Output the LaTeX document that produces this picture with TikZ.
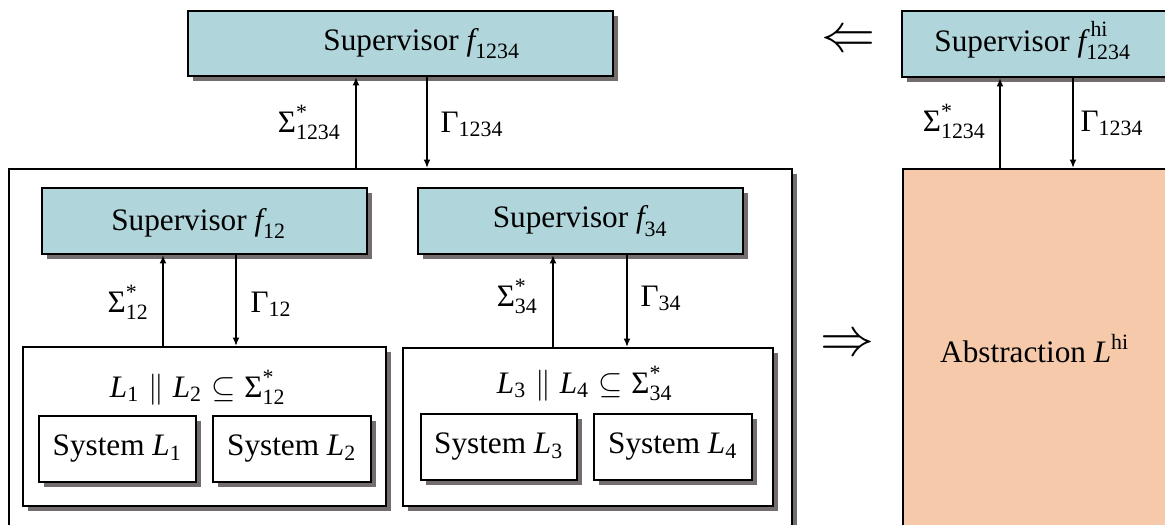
\documentclass[tikz,border=0pt]{standalone}
\usepackage{amsmath}
\usepackage{fontspec}
\setmainfont{Liberation Serif}
\usetikzlibrary{arrows.meta,shadows}

\definecolor{supblue}{HTML}{B0D5DB}
\definecolor{abspeach}{HTML}{F5C9A9}
\definecolor{shadowgray}{HTML}{736D6D}

\tikzset{
  wh/.style 2 args={minimum width={#1*0.32pt}, minimum height={#2*0.32pt}},
  box/.style={draw=black, line width=0.64pt, rectangle, inner sep=0pt,
    drop shadow={shadow xshift=1.6pt, shadow yshift=-1.6pt, fill=shadowgray, opacity=1}},
  supbox/.style={box, fill=supblue},
  plainbox/.style={box, fill=white},
  sig/.style={-{Latex[length=2.7pt,width=2.2pt]}, line width=0.5pt},
  lbl/.style={inner sep=0pt},
  impl/.style={inner sep=0pt, font=\fontsize{17}{18}\selectfont},
}

\begin{document}
\begin{tikzpicture}[x=0.32pt,y=-0.32pt, font=\fontsize{10}{12}\selectfont]
\useasboundingbox (0,0) rectangle (1165,524);
\clip (0,0) rectangle (1165,524);

% ---- composed system (left) ----
\node[supbox, wh={425}{65}] (top) at (400.5,43.5) {};
\node[lbl, anchor=base] (toptxt) at (422,50) {Supervisor $\textit{f}_{\text{1234}}$};
\node[plainbox, wh={783}{400}] (big) at (400.5,369) {};

\node[supbox, wh={325}{66}] (s12) at (204.5,221) {};
\node[lbl, anchor=base] (s12txt) at (199,230) {Supervisor $\textit{f}_{\text{12}}$};
\node[supbox, wh={325}{66}] (s34) at (580.5,221) {Supervisor $\textit{f}_{\text{34}}$};

\node[plainbox, wh={363}{159}] (p12) at (204.5,426.5) {};
\node[plainbox, wh={370}{158}] (p34) at (588,427) {};

\node[lbl, anchor=base] (c12) at (198,397)
  {$\textit{L}_{\text{1}} \parallel \textit{L}_{\text{2}} \subseteq \text{Σ}^{\text{*}}_{\text{12}}$};
\node[lbl, anchor=base] (c34) at (585,393)
  {$\textit{L}_{\text{3}} \parallel \textit{L}_{\text{4}} \subseteq \text{Σ}^{\text{*}}_{\text{34}}$};

\node[plainbox, wh={157}{66}] (L1) at (117.5,449) {System $\textit{L}_{\text{1}}$};
\node[plainbox, wh={158}{66}] (L2) at (292,449) {System $\textit{L}_{\text{2}}$};
\node[plainbox, wh={156}{66}] (L3) at (499,447) {System $\textit{L}_{\text{3}}$};
\node[plainbox, wh={158}{66}] (L4) at (673,447) {System $\textit{L}_{\text{4}}$};

% ---- abstracted system (right) ----
\node[supbox, wh={298}{66}] (shi) at (1051,44) {};
\node[lbl, anchor=base] (shitxt) at (1033,51) {Supervisor $\textit{f}^{\,\text{hi}}_{\text{1234}}$};
\node[box, fill=abspeach, wh={297}{400}] (abs) at (1051.5,369) {};
\node[lbl, anchor=base] (abstxt) at (1035,362) {Abstraction $\textit{L}^{\text{hi}}$};

% ---- implications between the two views ----
\node[impl] (back) at (848,42) {$\Leftarrow$};
\node[impl] (forth) at (847,346) {$\Rightarrow$};

% ---- event and control channels ----
\draw[sig] (big.north -| 356,0) -- (top.south -| 356,0);
\draw[sig] (top.south -| 427,0) -- (big.north -| 427,0);
\draw[sig] (p12.north -| 163,0) -- (s12.south -| 163,0);
\draw[sig] (s12.south -| 236,0) -- (p12.north -| 236,0);
\draw[sig] (p34.north -| 553,0) -- (s34.south -| 553,0);
\draw[sig] (s34.south -| 627,0) -- (p34.north -| 627,0);
\draw[sig] (abs.north -| 1000,0) -- (shi.south -| 1000,0);
\draw[sig] (shi.south -| 1073,0) -- (abs.north -| 1073,0);

\node[lbl, anchor=base east] (e1234) at (342,132) {$\text{Σ}^{\text{*}}_{\text{1234}}$};
\node[lbl, anchor=base west] (g1234) at (440,132) {$\text{Γ}_{\text{1234}}$};
\node[lbl, anchor=base east] (e12) at (150,312) {$\text{Σ}^{\text{*}}_{\text{12}}$};
\node[lbl, anchor=base west] (g12) at (250,312) {$\text{Γ}_{\text{12}}$};
\node[lbl, anchor=base east] (e34) at (539,306) {$\text{Σ}^{\text{*}}_{\text{34}}$};
\node[lbl, anchor=base west] (g34) at (640,306) {$\text{Γ}_{\text{34}}$};
\node[lbl, anchor=base east] (ehi) at (987,131) {$\text{Σ}^{\text{*}}_{\text{1234}}$};
\node[lbl, anchor=base west] (ghi) at (1080,131) {$\text{Γ}_{\text{1234}}$};
\end{tikzpicture}
\end{document}
